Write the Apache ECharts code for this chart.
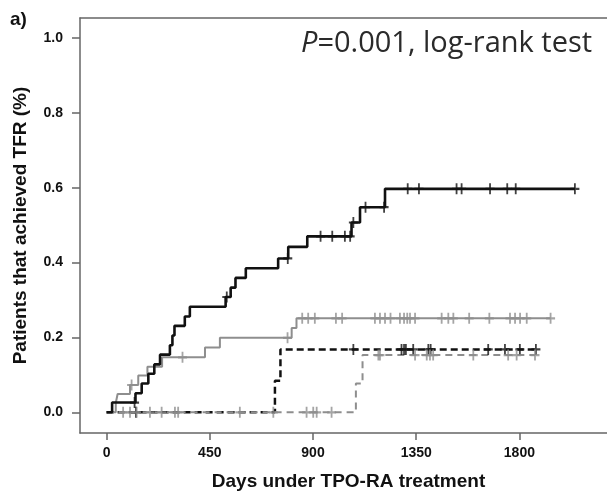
<!DOCTYPE html>
<html>
<head>
<meta charset="utf-8">
<script src="https://cdn.jsdelivr.net/npm/echarts@6.0.0/dist/echarts.min.js"></script>
<style>
  html, body { margin: 0; padding: 0; background: #fff; }
  #main { width: 607px; height: 495px; }
</style>
</head>
<body>
<div id="main"></div>
<script>
// tick values on the two axes
var xTicks = [0, 450, 900, 1350, 1800];
var yTicks = [0, 0.2, 0.4, 0.6, 0.8, 1.0];

// black solid curve (steps) + its censor marks
var blackDays = [0, 24, 126, 153, 182, 208, 233, 276, 287, 296, 341, 363, 519, 541, 562, 607, 748, 792, 875, 1068, 1105, 1214, 2042];
var blackVals = [0, 0.026, 0.051, 0.077, 0.103, 0.128, 0.154, 0.179, 0.205, 0.231, 0.256, 0.282, 0.308, 0.333, 0.359, 0.385, 0.411, 0.442, 0.470, 0.507, 0.548, 0.597, 0.597];
var blackCensDays = [122, 524, 790, 933, 984, 1039, 1062, 1076, 1129, 1210, 1313, 1362, 1526, 1548, 1672, 1747, 1784, 2042];
var blackCensVals = [0.026, 0.308, 0.411, 0.470, 0.470, 0.470, 0.470, 0.507, 0.548, 0.548, 0.597, 0.597, 0.597, 0.597, 0.597, 0.597, 0.597, 0.597];

// gray solid curve
var grayDays = [0, 40, 48, 102, 138, 178, 242, 429, 494, 807, 828, 1936];
var grayVals = [0, 0.025, 0.049, 0.073, 0.098, 0.122, 0.147, 0.173, 0.199, 0.225, 0.251, 0.251];
var grayCensDays = [109, 331, 789, 853, 879, 908, 1000, 1027, 1170, 1192, 1214, 1238, 1279, 1297, 1311, 1323, 1345, 1461, 1490, 1512, 1581, 1669, 1759, 1781, 1803, 1832, 1936];
var grayCensVals = [0.073, 0.147, 0.199, 0.251, 0.251, 0.251, 0.251, 0.251, 0.251, 0.251, 0.251, 0.251, 0.251, 0.251, 0.251, 0.251, 0.251, 0.251, 0.251, 0.251, 0.251, 0.251, 0.251, 0.251, 0.251, 0.251, 0.251];

// black dashed curve
var bdashDays = [0, 734, 758, 1872];
var bdashVals = [0, 0.084, 0.168, 0.168];
var bdashCensDays = [128, 1076, 1286, 1297, 1305, 1337, 1403, 1413, 1664, 1737, 1802, 1872];
var bdashCensVals = [0, 0.168, 0.168, 0.168, 0.168, 0.168, 0.168, 0.168, 0.168, 0.168, 0.168, 0.168];

// gray dashed curve
var gdashDays = [0, 1087, 1116, 1868];
var gdashVals = [0, 0.077, 0.153, 0.153];
var gdashCensDays = [72, 102, 131, 189, 240, 298, 312, 581, 727, 872, 901, 916, 981, 1185, 1192, 1345, 1396, 1410, 1424, 1599, 1751, 1788, 1868];
var gdashCensVals = [0, 0, 0, 0, 0, 0, 0, 0, 0, 0, 0, 0, 0, 0.153, 0.153, 0.153, 0.153, 0.153, 0.153, 0.153, 0.153, 0.153, 0.153];

function pairs(xs, ys) {
    return xs.map(function (x, i) { return [x, ys[i]]; });
}

var BLACK = '#111111';
var GRAY = '#8e8e8e';
var FONT = 'Liberation Sans';
// a plus sign for censored patients
var PLUS = 'path://M4,0H6V4H10V6H6V10H4V6H0V4H4Z';

function curve(name, xs, ys, color, width, dash, z) {
    return {
        name: name,
        type: 'line',
        step: 'end',
        data: pairs(xs, ys),
        showSymbol: false,
        lineStyle: { color: color, width: width, type: dash },
        z: z,
        silent: true
    };
}
function censors(name, xs, ys, color, z) {
    return {
        name: name,
        type: 'scatter',
        data: pairs(xs, ys),
        symbol: PLUS,
        symbolSize: [9, 11],
        itemStyle: { color: color },
        z: z,
        silent: true
    };
}

var myChart = echarts.init(document.getElementById('main'), null, { renderer: 'canvas' });
var option = {
    animation: false,
    backgroundColor: '#fff',
    grid: { left: 80, right: 0, top: 18, bottom: 62, outerBoundsMode: 'none', containLabel: false },
    xAxis: [{
        type: 'value',
        min: -116,
        max: 2182,
        name: 'Days under TPO-RA treatment',
        nameLocation: 'middle',
        nameGap: 39,
        nameTextStyle: { fontFamily: FONT, fontSize: 19, fontWeight: 'bold', color: '#111', padding: [0, 0, 0, 10] },
        axisLine: { onZero: false, lineStyle: { color: '#666', width: 1.5 } },
        axisTick: { show: true, length: 7, customValues: xTicks, lineStyle: { color: '#666', width: 1.5 } },
        axisLabel: {
            customValues: xTicks, margin: 13, fontFamily: FONT, fontSize: 14, fontWeight: 'bold', color: '#111',
            formatter: function (v) { return String(v); }
        },
        splitLine: { show: false }
    }, {
        // just the top frame line
        type: 'value',
        position: 'top',
        min: -116,
        max: 2182,
        axisLine: { show: true, onZero: false, lineStyle: { color: '#666', width: 1.5 } },
        axisTick: { show: false },
        axisLabel: { show: false },
        splitLine: { show: false }
    }],
    yAxis: {
        type: 'value',
        min: -0.0553,
        max: 1.0534,
        name: 'Patients that achieved TFR (%)',
        nameLocation: 'middle',
        nameGap: 50,
        nameTextStyle: { fontFamily: FONT, fontSize: 19, fontWeight: 'bold', color: '#111', padding: [0, 0, 0, 0] },
        axisLine: { show: true, onZero: false, lineStyle: { color: '#666', width: 1.5 } },
        axisTick: { show: true, length: 8, customValues: yTicks, lineStyle: { color: '#666', width: 1.5 } },
        axisLabel: {
            customValues: yTicks, margin: 17, fontFamily: FONT, fontSize: 14, fontWeight: 'bold', color: '#111',
            formatter: function (v) { return v.toFixed(1); }
        },
        splitLine: { show: false }
    },
    graphic: [{
        type: 'text',
        left: 10,
        top: 10,
        style: { text: 'a)', font: 'bold 19px "Liberation Sans"', fill: '#111' }
    }, {
        type: 'text',
        left: 301,
        top: 29,
        style: {
            text: '{i|P}=0.001, log-rank test',
            font: '29px "Open Sans"',
            fill: '#2a2a2a',
            rich: { i: { fontStyle: 'italic', fontFamily: 'Open Sans', fontSize: 29, fill: '#2a2a2a' } }
        }
    }],
    series: [
        curve('black dashed', bdashDays, bdashVals, BLACK, 2.5, [7, 4], 2),
        curve('gray dashed', gdashDays, gdashVals, GRAY, 2, [7, 5], 3),
        curve('gray', grayDays, grayVals, GRAY, 2, 'solid', 4),
        curve('black', blackDays, blackVals, BLACK, 2.6, 'solid', 5),
        censors('black dashed +', bdashCensDays, bdashCensVals, BLACK, 6),
        censors('gray dashed +', gdashCensDays, gdashCensVals, GRAY, 6),
        censors('gray +', grayCensDays, grayCensVals, GRAY, 6),
        censors('black +', blackCensDays, blackCensVals, BLACK, 7)
    ]
};
myChart.setOption(option);
</script>
</body>
</html>
